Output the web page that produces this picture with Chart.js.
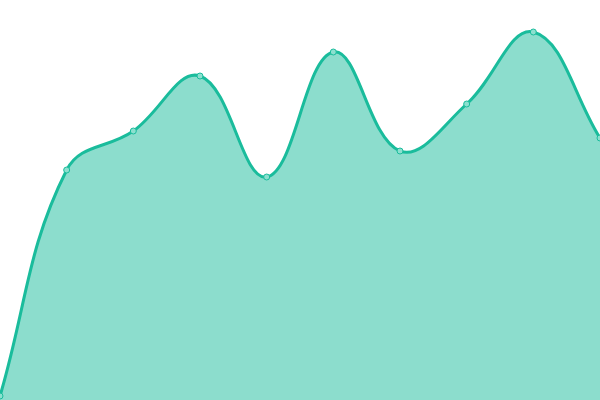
<!DOCTYPE html>
<html><head><meta charset="utf-8">
<script src="https://cdn.jsdelivr.net/npm/chart.js@4"></script>
<style>html,body{margin:0;padding:0;background:#fff}#w{width:600px;height:400px}</style>
</head><body><div id="w"><canvas id="c"></canvas></div>
<script>
const labels = ["1","2","3","4","5","6","7","8","9","10"];
const values = [4, 230, 269, 324, 223, 348, 249, 296, 368, 262];
const yMin = 0, yMax = 400;
new Chart(document.getElementById('c'), {
  type: 'line',
  data: { labels: labels, datasets: [{
    data: values,
    fill: true,
    backgroundColor: 'rgba(26,188,156,0.5)',
    borderColor: '#1abc9c',
    borderWidth: 3,
    tension: 0.4,
    pointRadius: 3,
    pointBackgroundColor: 'rgba(140,224,207,1)',
    pointBorderColor: '#1abc9c',
    pointBorderWidth: 1
  }]},
  options: {
    responsive: true, maintainAspectRatio: false, animation: false,
    layout: { padding: 0, autoPadding: false },
    plugins: { legend: { display: false }, tooltip: { enabled: false } },
    scales: {
      x: { display: false, offset: false },
      y: { display: false, min: yMin, max: yMax }
    }
  }
});
</script></body></html>
